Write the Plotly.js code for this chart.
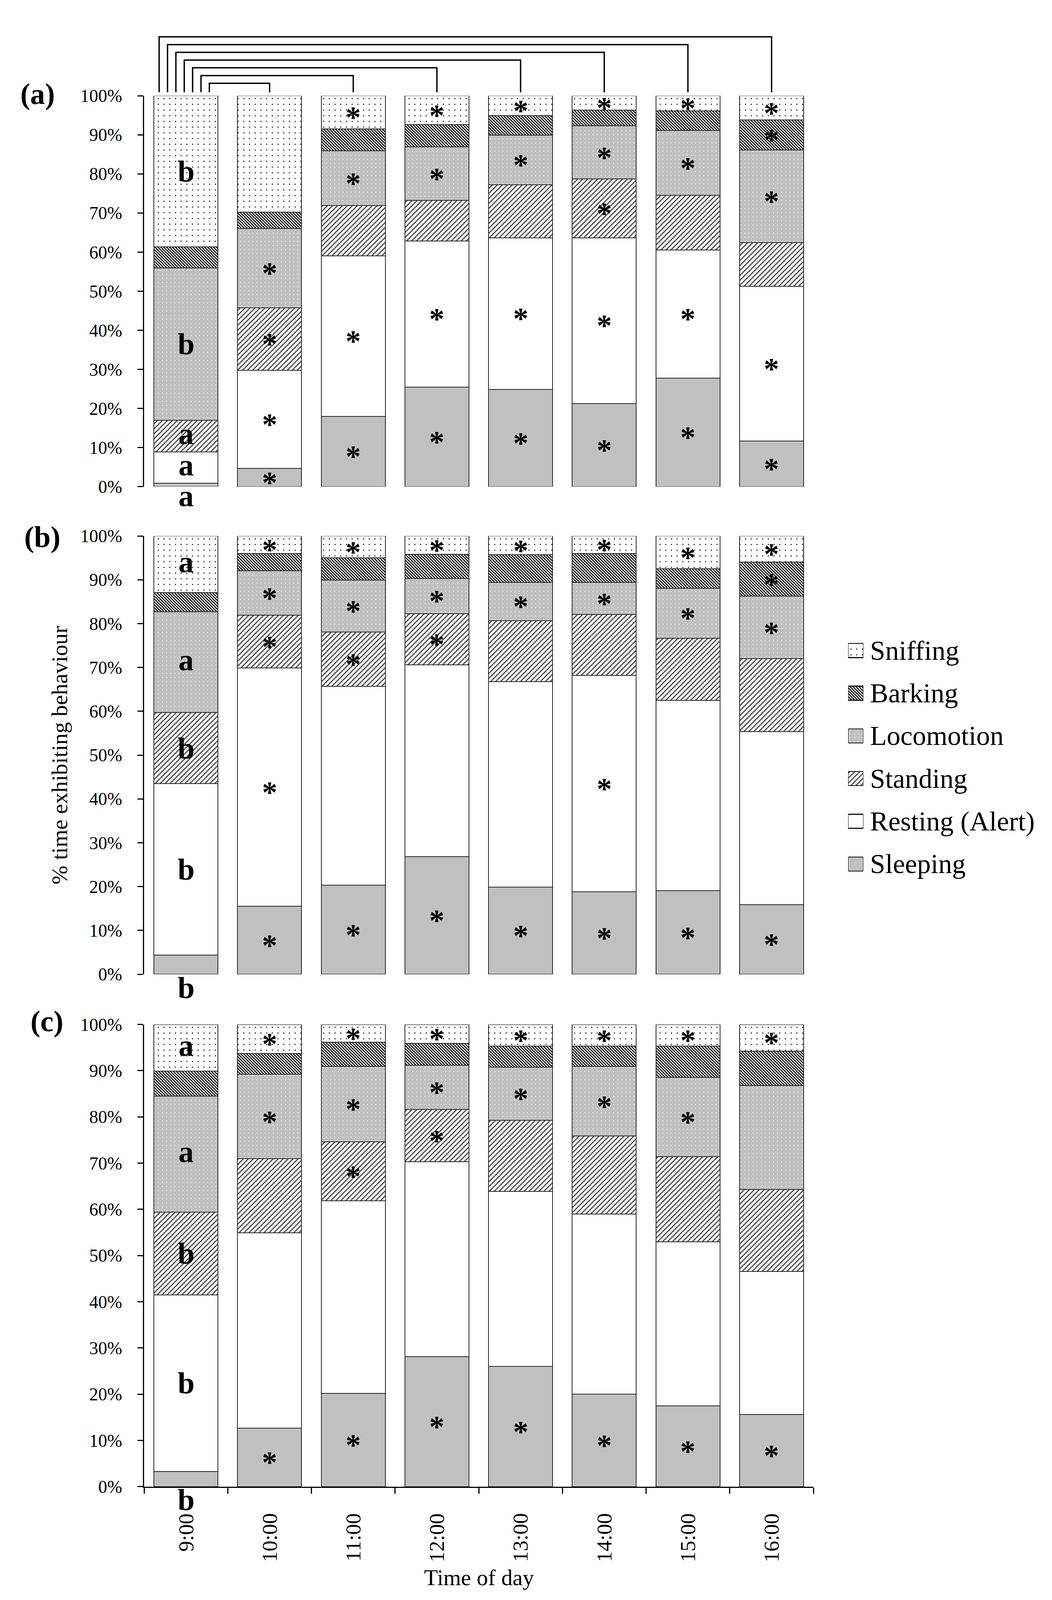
<!DOCTYPE html>
<html><head><meta charset="utf-8">
<script src="https://cdn.plot.ly/plotly-3.0.1.min.js"></script>
<style>html,body{margin:0;padding:0;background:#fff;overflow:hidden}
#chart{position:absolute;left:0;top:0}</style>
</head><body>
<div id="chart"></div>
<script>
// ---------- DATA ----------
const times = ['9:00','10:00','11:00','12:00','13:00','14:00','15:00','16:00'];
const behaviours = ['Sleeping','Resting (Alert)','Standing','Locomotion','Barking','Sniffing'];
const legendOrder = ['Sniffing','Barking','Locomotion','Standing','Resting (Alert)','Sleeping'];

// Panel (a) – % time per behaviour
const aSleeping   = [0.9, 4.7, 18.0, 25.5, 24.9, 21.3, 27.8, 11.7];
const aResting    = [8.0, 25.1, 41.0, 37.3, 38.7, 42.3, 32.7, 39.5];
const aStanding   = [8.1, 15.9, 12.9, 10.4, 13.6, 15.1, 14.0, 11.2];
const aLocomotion = [38.9, 20.3, 14.0, 13.7, 12.7, 13.6, 16.6, 23.7];
const aBarking    = [5.4, 4.2, 5.6, 5.7, 5.0, 4.0, 5.0, 7.7];
const aSniffing   = [38.7, 29.8, 8.5, 7.4, 5.1, 3.7, 3.9, 6.2];

// Panel (b)
const bSleeping   = [4.4, 15.5, 20.3, 26.8, 19.9, 18.8, 19.1, 15.9];
const bResting    = [39.1, 54.4, 45.4, 43.8, 46.9, 49.4, 43.4, 39.5];
const bStanding   = [16.2, 12.0, 12.4, 11.7, 13.9, 13.9, 14.2, 16.6];
const bLocomotion = [23.0, 10.2, 11.8, 8.0, 8.7, 7.3, 11.4, 14.3];
const bBarking    = [4.4, 3.9, 5.1, 5.5, 6.3, 6.6, 4.4, 7.7];
const bSniffing   = [12.9, 4.0, 5.0, 4.2, 4.3, 4.0, 7.5, 6.0];

// Panel (c)
const cSleeping   = [3.3, 12.7, 20.2, 28.1, 26.0, 20.0, 17.5, 15.6];
const cResting    = [38.2, 42.2, 41.7, 42.2, 37.9, 39.0, 35.5, 31.0];
const cStanding   = [17.9, 16.1, 12.7, 11.3, 15.4, 16.9, 18.4, 17.7];
const cLocomotion = [25.1, 18.2, 16.3, 9.6, 11.5, 15.0, 17.2, 22.5];
const cBarking    = [5.4, 4.5, 5.3, 4.7, 4.5, 4.4, 6.7, 7.4];
const cSniffing   = [10.1, 6.3, 3.8, 4.1, 4.7, 4.7, 4.7, 5.8];

// Significance marks, one character per time point (' ' = none)
const aSigSleeping = 'a*******', aSigResting = 'a*******', aSigStanding = 'a*   *  ';
const aSigLocomotion = 'b*******', aSigBarking = '       *', aSigSniffing = 'b ******';
const bSigSleeping = 'b*******', bSigResting = 'b*   *  ', bSigStanding = 'b***    ';
const bSigLocomotion = 'a*******', bSigBarking = '       *', bSigSniffing = 'a*******';
const cSigSleeping = 'b*******', cSigResting = 'b       ', cSigStanding = 'b **    ';
const cSigLocomotion = 'a****** ', cSigBarking = '        ', cSigSniffing = 'a*******';

// Comparison brackets: 9:00 vs each later time (panel a)
const bracketTargets = ['10:00','11:00','12:00','13:00','14:00','15:00','16:00'];

// ---------- GEOMETRY / STYLE ----------
const RW = 2694, RH = 4209;                      // design size (reference)
const W = Math.min(RW, window.innerWidth || RW);  // actual visible size
const H = Math.min(RH, window.innerHeight || RH);
const px = (v) => v / RW, py = (v) => 1 - v / RH; // design pixels -> paper fractions
const FONT = 'Liberation Serif, "Times New Roman", Times, serif';
const OUT = {color:'#262626', width:2};
const styles = {
  'Sleeping':        {color:'#c0c0c0'},
  'Resting (Alert)': {color:'#ffffff'},
  'Standing':        {color:'#ffffff', pattern:{shape:'/', fgcolor:'#4a4a4a', bgcolor:'#ffffff', size:9, solidity:0.33, fillmode:'replace'}},
  'Locomotion':      {color:'#c0c0c0', pattern:{shape:'.', fgcolor:'#f4f4f4', bgcolor:'#c0c0c0', size:10.5, solidity:0.05, fillmode:'replace'}},
  'Barking':         {color:'#ffffff', pattern:{shape:'\\', fgcolor:'#000000', bgcolor:'#ffffff', size:5.3, solidity:0.5, fillmode:'replace'}},
  'Sniffing':        {color:'#ffffff', pattern:{shape:'.', fgcolor:'#1e1e1e', bgcolor:'#ffffff', size:14.6, solidity:0.04, fillmode:'replace'}}
};

const panels = [
  {yaxis:'y',  yref:'y',  vals:[aSleeping,aResting,aStanding,aLocomotion,aBarking,aSniffing],
   sig:[aSigSleeping,aSigResting,aSigStanding,aSigLocomotion,aSigBarking,aSigSniffing]},
  {yaxis:'y2', yref:'y2', vals:[bSleeping,bResting,bStanding,bLocomotion,bBarking,bSniffing],
   sig:[bSigSleeping,bSigResting,bSigStanding,bSigLocomotion,bSigBarking,bSigSniffing]},
  {yaxis:'y3', yref:'y3', vals:[cSleeping,cResting,cStanding,cLocomotion,cBarking,cSniffing],
   sig:[cSigSleeping,cSigResting,cSigStanding,cSigLocomotion,cSigBarking,cSigSniffing]}
];

const traces = [];
const annotations = [];

panels.forEach((p) => {
  behaviours.forEach((bName, bi) => {
    const st = styles[bName];
    const marker = {color: st.color, line: OUT};
    if (st.pattern) marker.pattern = st.pattern;
    traces.push({
      type:'bar', name:bName, x:times, y:p.vals[bi], xaxis:'x', yaxis:p.yaxis,
      marker:marker, showlegend:false, cliponaxis:false, hoverinfo:'skip'
    });
    for (let i = 0; i < times.length; i++) {
      const m = p.sig[bi][i];
      if (m === ' ') continue;
      let base = 0;
      for (let j = 0; j < bi; j++) base += p.vals[j][i];
      const v = p.vals[bi][i];
      const star = m === '*';
      let y = base + v / 2, yshift = star ? -12 : (m === 'a' ? 6 : 0);
      if (!star && v < 5) { y = 0; yshift = (m === 'a') ? -24 : -34; }
      annotations.push({
        xref:'x', yref:p.yref, x:times[i], y:y, yanchor:'middle', yshift:yshift,
        text:'<b>' + m + '</b>', showarrow:false,
        font:{family:FONT, size:78, color:'#000'}
      });
    }
  });
});

// Custom legend (swatches drawn as bars on a hidden axis pair)
legendOrder.forEach((bName, k) => {
  const idx = legendOrder.length - 1 - k;
  const st = styles[bName];
  const marker = {color: st.color, line:{color:'#111', width:2.5}};
  if (st.pattern) marker.pattern = st.pattern;
  traces.push({type:'bar', x:[0], y:[0.33], base:[idx - 0.165], width:[1], xaxis:'x2', yaxis:'y4',
    marker:marker, showlegend:false, cliponaxis:false, hoverinfo:'skip'});
  annotations.push({xref:'paper', yref:'y4', x:px(2226), y:idx, xanchor:'left', yanchor:'middle',
    text:bName, showarrow:false, font:{family:FONT, size:70, color:'#000'}});
});

// Panel labels
[['(a)',96,247],['(b)',108,1412],['(c)',120,2687]].forEach(([t,lx,ly]) => {
  annotations.push({xref:'paper', yref:'paper', x:px(lx), y:py(ly), xanchor:'center', yanchor:'middle',
    text:'<b>'+t+'</b>', showarrow:false, font:{family:FONT, size:76, color:'#000'}});
});

// Rotated time-of-day category labels under panel (c)
times.forEach((t) => {
  annotations.push({xref:'x', yref:'paper', x:t, y:py(3980), xanchor:'center', yanchor:'top',
    textangle:-90, text:t, showarrow:false, borderpad:0, font:{family:FONT, size:55, color:'#000'}});
});

// x-axis title
annotations.push({xref:'x domain', yref:'paper', x:0.5, y:py(4150), xanchor:'center', yanchor:'middle',
  text:'Time of day', showarrow:false, font:{family:FONT, size:58, color:'#000'}});

// Brackets
const shapes = bracketTargets.map((t, k) => {
  const xl = 0.28 - 0.1 * k;
  const xr = times.indexOf(t);
  const top = (103.2 + 1.98 * k) / 100;
  const bot = 1.009;
  return {type:'path', xref:'x', yref:'y domain',
    path:`M ${xl},${bot} L ${xl},${top} L ${xr},${top} L ${xr},${bot}`,
    line:{color:'#000', width:3.5}, fillcolor:'rgba(0,0,0,0)'};
});

const yCommon = {
  range:[0,100], dtick:10, ticksuffix:'%', ticks:'outside', ticklen:14, tickwidth:3, tickcolor:'#000',
  showline:true, linewidth:3, linecolor:'#000', showgrid:false, zeroline:false, anchor:'x',
  tickfont:{family:FONT, size:46, color:'#000'}, ticklabelstandoff:30, fixedrange:true, automargin:false
};

const layout = {
  width:W, height:H, autosize:false,
  margin:{l:0, r:0, t:0, b:0, pad:0},
  paper_bgcolor:'#fff', plot_bgcolor:'rgba(0,0,0,0)',
  barmode:'stack', bargap:0.234, showlegend:false, hovermode:false,
  font:{family:FONT, color:'#000'},
  xaxis:{domain:[px(369), px(2083)], range:[-0.5,7.5], type:'category', anchor:'y3',
    showline:true, linewidth:3, linecolor:'#000', ticks:'outside', tickson:'boundaries',
    ticklen:15, tickwidth:3, tickcolor:'#000', showticklabels:false,
    showgrid:false, zeroline:false, automargin:false, fixedrange:true},
  yaxis:Object.assign({}, yCommon, {domain:[py(1280), py(252)]}),
  yaxis2:Object.assign({}, yCommon, {domain:[py(2563), py(1410)],
    title:{text:'% time exhibiting behaviour', font:{family:FONT, size:58, color:'#000'}, standoff:15}}),
  yaxis3:Object.assign({}, yCommon, {domain:[py(3911), py(2695)]}),
  xaxis2:{domain:[px(2172), px(2211)], range:[-0.5,0.5], anchor:'y4', visible:false, fixedrange:true},
  yaxis4:{domain:[py(2329), py(1655)], range:[-0.5,5.5], anchor:'x2', visible:false, fixedrange:true},
  annotations:annotations,
  shapes:shapes
};

const el = document.getElementById('chart');
el.style.width = W + 'px'; el.style.height = H + 'px';
Plotly.newPlot(el, traces, layout, {staticPlot:true, displayModeBar:false});
</script>
</body></html>
